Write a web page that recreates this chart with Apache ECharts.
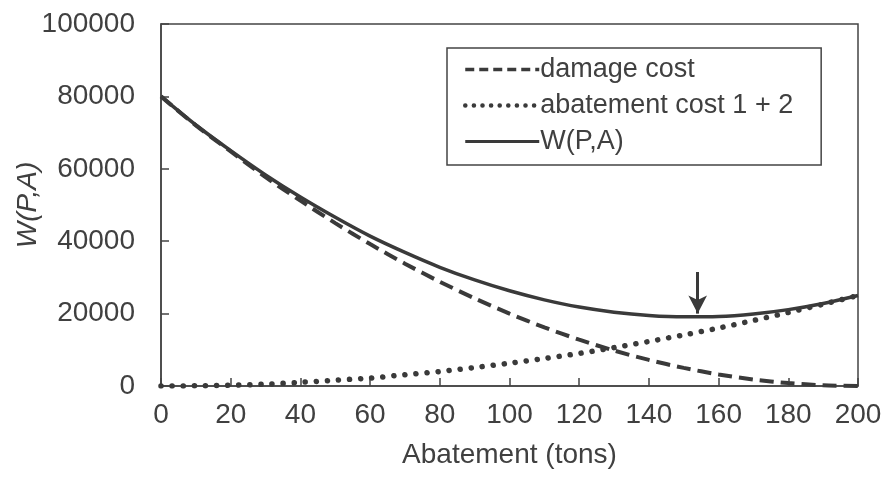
<!DOCTYPE html>
<html>
<head>
<meta charset="utf-8">
<script src="https://cdn.jsdelivr.net/npm/echarts@6/dist/echarts.min.js"></script>
<style>
  html, body { margin: 0; padding: 0; background: #fff; }
  #chart { width: 886px; height: 479px; }
</style>
</head>
<body>
<div id="chart"></div>
<script>
// values, every 10 tons
const abatement = [0, 10, 20, 30, 40, 50, 60, 70, 80, 90, 100, 110, 120, 130, 140, 150, 160, 170, 180, 190, 200];
const damageCost = [80000, 72000, 64800, 57700, 51200, 45000, 39200, 33800, 28800, 24200, 20000, 16200, 12800, 9800, 7200, 5000, 3200, 1800, 800, 200, 0];
const abatementCost = [0, 50, 200, 500, 1000, 1600, 2200, 3100, 4000, 5100, 6300, 7600, 9000, 10600, 12300, 14100, 16000, 18100, 20300, 22600, 25000];
const welfare = [80000, 72100, 65000, 58300, 52200, 46600, 41400, 36900, 32800, 29300, 26300, 23800, 21800, 20400, 19500, 19100, 19200, 19900, 21100, 22800, 25000];
const arrowAt = [[154, 31500], [154, 20000]];

const lineColor = "#3a3a3a";
const textColor = "#404040";
const font = "Liberation Sans, Arial, sans-serif";
const pairs = (ys) => abatement.map((x, i) => [x, ys[i]]);

const dashedStyle = { color: lineColor, width: 4, type: [14, 7] };
const dottedStyle = { color: lineColor, width: 5.5, type: [0.1, 11], cap: "round" };
const solidStyle = { color: lineColor, width: 3.5 };

const chart = echarts.init(document.getElementById("chart"));
chart.setOption({
  animation: false,
  backgroundColor: "#fff",
  grid: {
    left: 161,
    right: 28,
    top: 24,
    bottom: 93,
    containLabel: false,
    outerBoundsMode: "none",
    show: true,
    borderColor: "#444",
    borderWidth: 1.5
  },
  legend: {
    orient: "vertical",
    left: 447,
    top: 48,
    padding: [8, 28, 10, 16],
    itemGap: 9,
    itemWidth: 74,
    itemHeight: 26,
    borderColor: "#444",
    borderWidth: 1.5,
    backgroundColor: "#fff",
    itemStyle: { opacity: 0 },
    textStyle: {
      fontFamily: font,
      fontSize: 27,
      color: textColor,
      padding: [0, 0, 0, -4]
    },
    data: [
      { name: "damage cost", lineStyle: { width: 3.5, type: [9, 5] } },
      { name: "abatement cost 1 + 2", lineStyle: { width: 4.5, type: [0.1, 8.5], cap: "round" } },
      { name: "W(P,A)", lineStyle: { width: 3 } }
    ]
  },
  xAxis: {
    type: "value",
    min: 0,
    max: 200,
    interval: 20,
    name: "Abatement (tons)",
    nameLocation: "middle",
    nameGap: 55,
    nameTextStyle: { fontFamily: font, fontSize: 28, color: textColor },
    axisLine: { lineStyle: { color: "#444", width: 1.5 } },
    axisTick: { inside: true, length: 8, lineStyle: { color: "#444", width: 1.5 } },
    axisLabel: { margin: 15, fontFamily: font, fontSize: 28, color: textColor },
    splitLine: { show: false }
  },
  yAxis: {
    type: "value",
    min: 0,
    max: 100000,
    interval: 20000,
    name: "W(P,A)",
    nameLocation: "middle",
    nameRotate: 90,
    nameGap: 119,
    nameMoveOverlap: false,
    nameTextStyle: { fontFamily: font, fontStyle: "italic", fontSize: 28, color: textColor },
    axisLine: { show: true, lineStyle: { color: "#444", width: 1.5 } },
    axisTick: { show: true, inside: true, length: 8, lineStyle: { color: "#444", width: 1.5 } },
    axisLabel: {
      margin: 26,
      fontFamily: font,
      fontSize: 28,
      color: textColor,
      formatter: (v) => String(v)
    },
    splitLine: { show: false }
  },
  series: [
    {
      name: "damage cost",
      type: "line",
      smooth: 0.3,
      symbol: "none",
      data: pairs(damageCost),
      lineStyle: dashedStyle,
      itemStyle: { color: lineColor },
      z: 3
    },
    {
      name: "abatement cost 1 + 2",
      type: "line",
      smooth: 0.3,
      symbol: "none",
      data: pairs(abatementCost),
      lineStyle: dottedStyle,
      itemStyle: { color: lineColor },
      z: 3
    },
    {
      name: "W(P,A)",
      type: "line",
      smooth: 0.3,
      symbol: "none",
      data: pairs(welfare),
      lineStyle: solidStyle,
      itemStyle: { color: lineColor },
      z: 4,
      markLine: {
        silent: true,
        symbol: ["none", "arrow"],
        symbolSize: [14, 18],
        label: { show: false },
        lineStyle: { color: lineColor, width: 3, type: "solid" },
        data: [[{ coord: arrowAt[0] }, { coord: arrowAt[1] }]]
      }
    }
  ]
});
</script>
</body>
</html>
